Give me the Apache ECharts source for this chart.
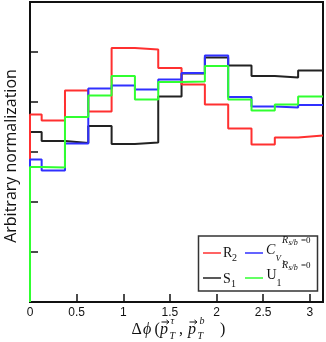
<!DOCTYPE html>
<html><head><meta charset="utf-8">
<script src="https://cdn.jsdelivr.net/npm/echarts@6/dist/echarts.min.js"></script>
<style>html,body{margin:0;padding:0;background:#fff}#c{width:326px;height:342px}</style>
</head><body><div id="c"></div>
<script>
// bin edges (centres at multiples of 0.25, clipped to [0, pi])
const binEdges = [0, 0.125, 0.375, 0.625, 0.875, 1.125, 1.375, 1.625, 1.875, 2.125, 2.375, 2.625, 2.875, Math.PI];
const xTicks = [0, 0.5, 1, 1.5, 2, 2.5, 3];
const R2  = [3.75, 3.63, 4.23, 3.81, 5.08, 5.05, 4.68, 4.35, 3.95, 3.47, 3.15, 3.29, 3.33];
const S1  = [3.40, 3.22, 3.18, 3.52, 3.16, 3.19, 4.11, 4.57, 4.89, 4.73, 4.52, 4.49, 4.63];
const CV1 = [2.85, 2.63, 3.17, 4.27, 4.33, 4.25, 4.45, 4.58, 4.93, 4.10, 3.91, 3.89, 3.94];
const U1  = [2.70, 2.69, 3.70, 4.13, 4.52, 4.05, 4.40, 4.41, 4.72, 4.05, 3.83, 3.95, 4.11];
const yTitle = 'Arbitrary normalization';

function steps(vals) {
  const pts = [[binEdges[0], 0]];
  vals.forEach((v, i) => { pts.push([binEdges[i], v]); pts.push([binEdges[i + 1], v]); });
  return pts;
}
const RED = '#ff3030', BLUE = '#3030ff', GREEN = '#30ff30', BLACK = '#222';
const SERIF = '"Liberation Serif", "DejaVu Serif", serif';

function txt(x, y, s, size, italic, fill) {
  return { type: 'text', x: x, y: y, silent: true,
    style: { text: s, font: (italic ? 'italic ' : '') + size + 'px ' + SERIF,
      fill: fill || '#111', textAlign: 'left', textVerticalAlign: 'middle' } };
}
function seg(x1, x2, y, c, w) {
  return { type: 'line', shape: { x1: x1, y1: y, x2: x2, y2: y }, style: { stroke: c, lineWidth: w || 1.5 } };
}
function arrow(x, y) {
  return [
    { type: 'line', shape: { x1: x, y1: y, x2: x + 7, y2: y }, style: { stroke: '#111', lineWidth: 1 } },
    { type: 'polyline', shape: { points: [[x + 5, y - 2], [x + 7.5, y], [x + 5, y + 2]] }, style: { stroke: '#111', lineWidth: 1, fill: null } }
  ];
}

const chart = echarts.init(document.getElementById('c'), null, { renderer: 'canvas' });
const mk = (name, vals, color) => ({
  name: name, type: 'line', data: steps(vals), symbol: 'none', animation: false,
  lineStyle: { color: color, width: 2 }, itemStyle: { color: color }
});
chart.setOption({
  animation: false,
  grid: { left: 30, right: 3, top: 2, bottom: 40, outerBoundsMode: 'none', containLabel: false,
    show: true, borderColor: '#111', borderWidth: 2, backgroundColor: 'transparent' },
  xAxis: {
    type: 'value', min: 0, max: Math.PI, interval: 0.5,
    axisLine: { show: true, lineStyle: { color: '#111', width: 2 } },
    axisTick: { show: true, inside: true, length: 8, lineStyle: { color: '#111', width: 1.5 } },
    splitLine: { show: false },
    axisLabel: { color: '#111', fontSize: 12, fontFamily: '"Liberation Sans", Arial, sans-serif', margin: 5,
      formatter: v => xTicks.indexOf(v) >= 0 ? String(v) : '' }
  },
  yAxis: {
    type: 'value', min: 0, max: 6, interval: 1,
    axisLine: { show: true, lineStyle: { color: '#111', width: 2 } },
    axisTick: { show: true, inside: true, length: 8, lineStyle: { color: '#111', width: 1.5 } },
    splitLine: { show: false },
    axisLabel: { show: false }
  },
  series: [mk('S1', S1, BLACK), mk('R2', R2, RED), mk('CV1', CV1, BLUE), mk('U1', U1, GREEN)],
  graphic: [
    { type: 'text', x: 11, y: 156, rotation: Math.PI / 2, silent: true,
      style: { text: yTitle, font: '16px "Open Sans", "DejaVu Sans", sans-serif', fill: '#111',
        textAlign: 'center', textVerticalAlign: 'middle' } },
    { type: 'rect', shape: { x: 198.5, y: 236, width: 119, height: 55 }, style: { fill: '#fff', stroke: '#333', lineWidth: 1.5 } },
    seg(203, 221, 253, RED), seg(245, 263, 253, BLUE),
    seg(203, 221, 278, BLACK), seg(245, 263, 278, GREEN),
    txt(223, 253, 'R', 14, false), txt(232, 258, '2', 10, false),
    txt(223, 279, 'S', 14, false), txt(231, 284, '1', 10, false),
    txt(266, 250.5, 'C', 14, true), txt(275.5, 259, 'V', 9, true), txt(281.5, 262.5, '1', 7, false),
    txt(282, 240.5, 'R', 10, true), txt(288.5, 243, 's/b', 8, true), txt(301, 240.5, '=0', 9, false),
    txt(266.5, 275, 'U', 14, false), txt(276.5, 283, '1', 10, false),
    txt(282, 265.5, 'R', 10, true), txt(288.5, 268, 's/b', 8, true), txt(301, 265.5, '=0', 9, false),
    // x-axis title
    txt(131.5, 330, 'Δ', 16, false), txt(143, 330, 'ϕ', 16, true), txt(154.5, 330, '(', 16, false),
    txt(160, 330, 'p', 16, true), ...arrow(161.5, 322), txt(169.5, 336, 'T', 10, true), txt(170.5, 321, 'τ', 10, true),
    txt(179, 330, ',', 16, false),
    txt(188, 330, 'p', 16, true), ...arrow(189.5, 322), txt(197.5, 336, 'T', 10, true), txt(199.5, 321, 'b', 10, true),
    txt(220, 330, ')', 16, false)
  ]
});
</script></body></html>
